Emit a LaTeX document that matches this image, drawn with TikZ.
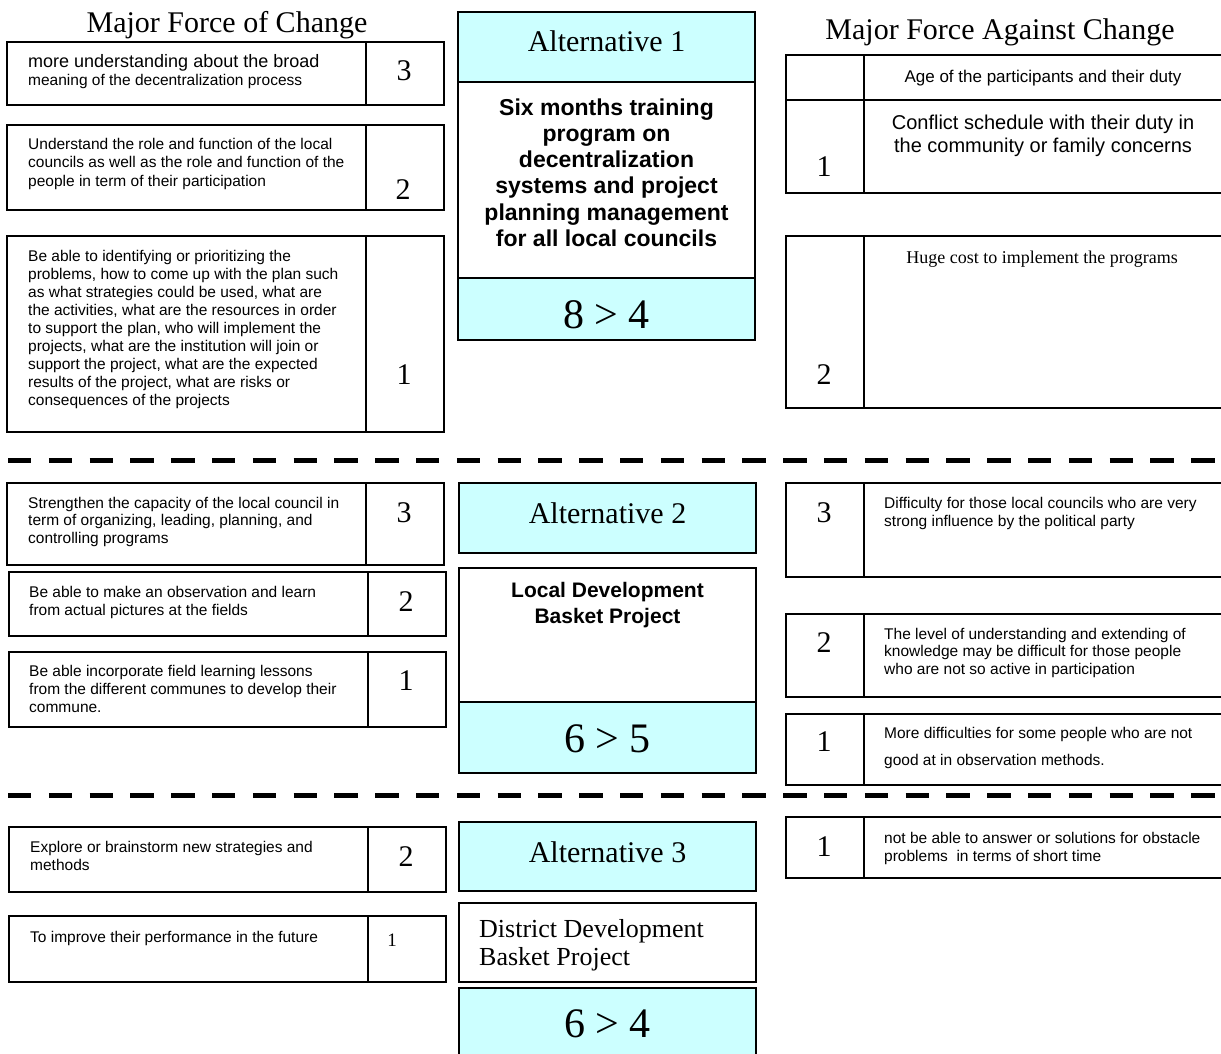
\documentclass[tikz,border=0pt]{standalone}
\usepackage{fontspec}
\setmainfont{Liberation Serif}
\setsansfont{Liberation Sans}
\usepackage{tikz}
\definecolor{altblue}{RGB}{204,255,255}

\begin{document}
\begin{tikzpicture}[x=1pt,y=-1pt,
  cell/.style={draw,line width=1.5pt,inner sep=0pt,outer sep=0pt,anchor=north west},
  altcell/.style={cell,fill=altblue},
  txt/.style={font=\sffamily\fontsize{15.5}{18}\selectfont,align=left,anchor=base west,inner sep=0pt},
  num/.style={font=\fontsize{30}{30}\selectfont,inner sep=0pt},
  head/.style={font=\fontsize{30}{30}\selectfont,anchor=base,inner sep=0pt},
  score/.style={font=\fontsize{42}{42}\selectfont,anchor=base,inner sep=0pt},
  plan/.style={font=\sffamily\bfseries\fontsize{23}{26.3}\selectfont,align=center,anchor=base,inner sep=0pt},
  sepline/.style={line width=5pt,dash pattern=on 23.3pt off 17.5pt}]
  \useasboundingbox (0,0) rectangle (1221,1054);

  % titles
  \node[head] (title-l) at (227,33) {Major Force of Change};
  \node[head] (title-r) at (1000,40) {Major Force Against Change};

  % separators
  \coordinate (sep1w) at (8,460);
  \coordinate (sep1e) at (1221,460);
  \coordinate (sep2w) at (8,795);
  \coordinate (sep2e) at (1221,795);
  \draw[sepline] (sep1w) -- (sep1e);
  \draw[sepline] (sep2w) -- (sep2e);

  % forces of change (multi-line texts sit on their last baseline)
  \node[cell,minimum width=359pt,minimum height=63pt] (l1) at (7,42) {};
  \node[cell,minimum width=78pt,minimum height=63pt] (l1n) at (l1.north east) {};
  \node[cell,minimum width=359pt,minimum height=85pt] (l2) at (7,125) {};
  \node[cell,minimum width=78pt,minimum height=85pt] (l2n) at (l2.north east) {};
  \node[cell,minimum width=359pt,minimum height=196pt] (l3) at (7,236) {};
  \node[cell,minimum width=78pt,minimum height=196pt] (l3n) at (l3.north east) {};
  \node[cell,minimum width=359pt,minimum height=82pt] (l4) at (7,483) {};
  \node[cell,minimum width=78pt,minimum height=82pt] (l4n) at (l4.north east) {};
  \node[cell,minimum width=359pt,minimum height=64pt] (l5) at (9,572) {};
  \node[cell,minimum width=78pt,minimum height=64pt] (l5n) at (l5.north east) {};
  \node[cell,minimum width=359pt,minimum height=75pt] (l6) at (9,652) {};
  \node[cell,minimum width=78pt,minimum height=75pt] (l6n) at (l6.north east) {};
  \node[cell,minimum width=359pt,minimum height=65pt] (l7) at (9,827) {};
  \node[cell,minimum width=78pt,minimum height=65pt] (l7n) at (l7.north east) {};
  \node[cell,minimum width=359pt,minimum height=66pt] (l8) at (9,916) {};
  \node[cell,minimum width=78pt,minimum height=66pt] (l8n) at (l8.north east) {};

  \node[txt,font=\sffamily\fontsize{18}{18}\selectfont] (l1a) at (28,68) {more understanding about the broad};
  \node[txt] (l1b) at (28,86) {meaning of the decentralization process};
  \node[txt,font=\sffamily\fontsize{15.5}{18.5}\selectfont] (l2t) at (28,186) {Understand the role and function of the local\\councils as well as the role and function of the\\people in term of their participation};
  \node[txt] (l3t) at (28,405) {Be able to identifying or prioritizing the\\problems, how to come up with the plan such\\as what strategies could be used, what are\\the activities, what are the resources in order\\to support the plan, who will implement the\\projects, what are the institution will join or\\support the project, what are the expected\\results of the project, what are risks or\\consequences of the projects};
  \node[txt,font=\sffamily\fontsize{15.5}{17.5}\selectfont] (l4t) at (28,543) {Strengthen the capacity of the local council in\\term of organizing, leading, planning, and\\controlling programs};
  \node[txt] (l5t) at (29,615) {Be able to make an observation and learn\\from actual pictures at the fields};
  \node[txt] (l6t) at (29,712) {Be able incorporate field learning lessons\\from the different communes to develop their\\commune.};
  \node[txt] (l7t) at (30,870) {Explore or brainstorm new strategies and\\methods};
  \node[txt] (l8t) at (30,942) {To improve their performance in the future};

  \node[num] (l1v) at (404,71) {3};
  \node[num] (l2v) at (403,190) {2};
  \node[num] (l3v) at (404,375) {1};
  \node[num] (l4v) at (404,513) {3};
  \node[num] (l5v) at (406,602) {2};
  \node[num] (l6v) at (406,681) {1};
  \node[num] (l7v) at (406,857) {2};
  \node[num,font=\fontsize{19}{19}\selectfont] (l8v) at (392,940) {1};

  % alternatives
  \node[altcell,minimum width=297pt,minimum height=70pt] (a1h) at (458,12) {};
  \node[cell,minimum width=297pt,minimum height=196pt] (a1b) at (a1h.south west) {};
  \node[altcell,minimum width=297pt,minimum height=62pt] (a1f) at (a1b.south west) {};
  \node[altcell,minimum width=297pt,minimum height=70pt] (a2h) at (459,483) {};
  \node[cell,minimum width=297pt,minimum height=134pt] (a2b) at (459,568) {};
  \node[altcell,minimum width=297pt,minimum height=71pt] (a2f) at (a2b.south west) {};
  \node[altcell,minimum width=297pt,minimum height=69pt] (a3h) at (459,822) {};
  \node[cell,minimum width=297pt,minimum height=79pt] (a3b) at (459,903) {};
  \node[altcell,minimum width=297pt,minimum height=72pt] (a3f) at (459,988) {};

  \node[head] (a1ht) at (606.5,52) {Alternative 1};
  \node[plan] (a1bt) at (606.5,246.5) {Six months training\\program on\\decentralization\\systems and project\\planning management\\for all local councils};
  \node[score] (a1ft) at (606.5,328) {8 > 4};
  \node[head] (a2ht) at (607.5,523) {Alternative 2};
  \node[plan,font=\sffamily\bfseries\fontsize{21}{26}\selectfont] (a2bt) at (607.5,623) {Local Development\\Basket Project};
  \node[score] (a2ft) at (607.5,752) {6 > 5};
  \node[head] (a3ht) at (607.5,862) {Alternative 3};
  \node[txt,font=\fontsize{26}{28}\selectfont] (a3bt) at (479,965) {District Development\\Basket Project};
  \node[score] (a3ft) at (607.5,1037) {6 > 4};

  % forces against change
  \node[cell,minimum width=78pt,minimum height=45pt] (r1n) at (786,55) {};
  \node[cell,minimum width=360pt,minimum height=45pt] (r1) at (r1n.north east) {};
  \node[cell,minimum width=78pt,minimum height=93pt] (r2n) at (r1n.south west) {};
  \node[cell,minimum width=360pt,minimum height=93pt] (r2) at (r2n.north east) {};
  \node[cell,minimum width=78pt,minimum height=172pt] (r3n) at (786,236) {};
  \node[cell,minimum width=360pt,minimum height=172pt] (r3) at (r3n.north east) {};
  \node[cell,minimum width=78pt,minimum height=94pt] (r4n) at (786,483) {};
  \node[cell,minimum width=360pt,minimum height=94pt] (r4) at (r4n.north east) {};
  \node[cell,minimum width=78pt,minimum height=83pt] (r5n) at (786,614) {};
  \node[cell,minimum width=360pt,minimum height=83pt] (r5) at (r5n.north east) {};
  \node[cell,minimum width=78pt,minimum height=71pt] (r6n) at (786,714) {};
  \node[cell,minimum width=360pt,minimum height=71pt] (r6) at (r6n.north east) {};
  \node[cell,minimum width=78pt,minimum height=61pt] (r7n) at (786,817) {};
  \node[cell,minimum width=360pt,minimum height=61pt] (r7) at (r7n.north east) {};

  \node[txt,font=\sffamily\fontsize{17}{17}\selectfont,anchor=base] (r1t) at (1043,83) {Age of the participants and their duty};
  \node[txt,font=\sffamily\fontsize{20}{23}\selectfont,align=center,anchor=base] (r2t) at (1043,153) {Conflict schedule with their duty in\\the community or family concerns};
  \node[txt,font=\fontsize{18}{18}\selectfont,anchor=base] (r3t) at (1042,263) {Huge cost to implement the programs};
  \node[txt] (r4t) at (884,526) {Difficulty for those local councils who are very\\strong influence by the political party};
  \node[txt,font=\sffamily\fontsize{15.5}{17.5}\selectfont] (r5t) at (884,674) {The level of understanding and extending of\\knowledge may be difficult for those people\\who are not so active in participation};
  \node[txt,font=\sffamily\fontsize{15.5}{27}\selectfont] (r6t) at (884,765) {More difficulties for some people who are not\\good at in observation methods.};
  \node[txt] (r7t) at (884,861) {not be able to answer or solutions for obstacle\\problems\ \ in terms of short time};

  \node[num] (r2v) at (824,167) {1};
  \node[num] (r3v) at (824,375) {2};
  \node[num] (r4v) at (824,513) {3};
  \node[num] (r5v) at (824,643) {2};
  \node[num] (r6v) at (824,742) {1};
  \node[num] (r7v) at (824,847) {1};
\end{tikzpicture}
\end{document}
